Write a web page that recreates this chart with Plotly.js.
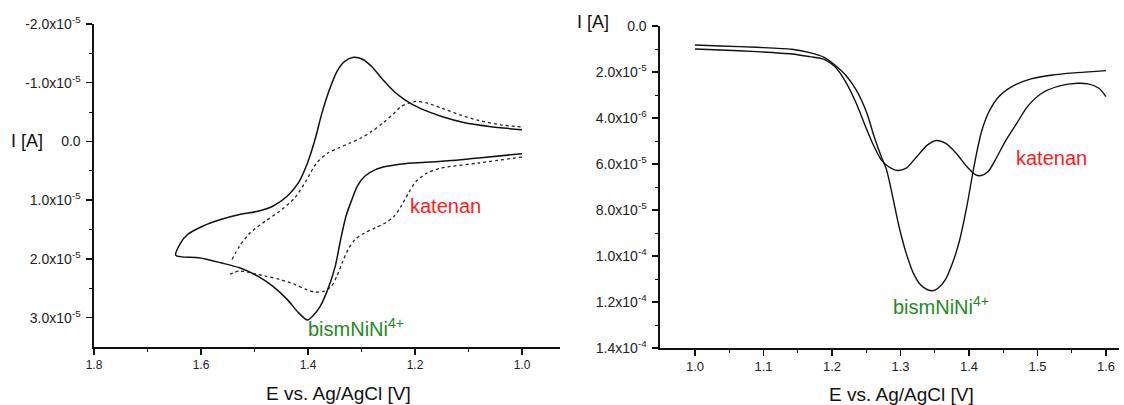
<!DOCTYPE html>
<html>
<head>
<meta charset="utf-8">
<script src="https://cdn.plot.ly/plotly-3.0.1.min.js"></script>
<style>html,body{margin:0;padding:0;background:#fff;}#chart{width:1124px;height:405px;}</style>
</head>
<body>
<div id="chart"></div>
<script>
// ---- Left panel: cyclic voltammograms (E in V, I in units of 1e-5 A) ----
const cvBisE = [1.000,1.081,1.150,1.219,1.253,1.274,1.294,1.308,1.318,1.329,1.339,1.349,1.363,1.377,1.391,1.401,1.418,1.439,1.466,1.494,1.528,1.563,1.604,1.647,1.638,1.625,1.597,1.563,1.528,1.494,1.466,1.439,1.418,1.401,1.387,1.374,1.360,1.346,1.332,1.315,1.298,1.281,1.260,1.239,1.219,1.191,1.150,1.109,1.061,1.000];
const cvBisI = [0.208,0.282,0.339,0.378,0.424,0.480,0.593,0.763,0.990,1.273,1.669,2.122,2.519,2.802,2.972,3.040,2.915,2.689,2.462,2.292,2.151,2.066,1.981,1.941,1.726,1.584,1.443,1.330,1.245,1.188,1.103,0.933,0.707,0.367,-0.029,-0.482,-0.879,-1.190,-1.360,-1.434,-1.400,-1.275,-1.049,-0.850,-0.709,-0.567,-0.426,-0.324,-0.256,-0.199];
const cvKatE = [1.000,1.081,1.150,1.177,1.198,1.212,1.226,1.239,1.253,1.274,1.294,1.312,1.325,1.336,1.346,1.356,1.370,1.387,1.404,1.425,1.453,1.480,1.508,1.528,1.551,null,1.542,1.528,1.508,1.480,1.453,1.425,1.404,1.384,1.363,1.343,1.322,1.301,1.281,1.260,1.239,1.226,1.212,1.198,1.177,1.150,1.116,1.081,1.040,1.000];
const cvKatI = [0.265,0.367,0.452,0.537,0.678,0.877,1.103,1.273,1.375,1.471,1.556,1.669,1.839,2.066,2.292,2.462,2.547,2.564,2.519,2.434,2.349,2.292,2.236,2.207,2.281,null,2.009,1.783,1.556,1.358,1.188,0.962,0.678,0.367,0.197,0.112,0.027,-0.058,-0.171,-0.313,-0.482,-0.596,-0.652,-0.681,-0.652,-0.567,-0.454,-0.358,-0.284,-0.245];

// ---- Right panel: differential pulse curves (E in V, I in units of 1e-5 A) ----
const dpBisE = [1.000,1.0375,1.0896,1.1417,1.1677,1.1885,1.2042,1.2198,1.2354,1.2510,1.2615,1.2719,1.2797,1.2875,1.2979,1.3083,1.3188,1.3292,1.3396,1.3474,1.3552,1.3656,1.3760,1.3865,1.3969,1.4073,1.4177,1.4281,1.4438,1.4646,1.4906,1.5219,1.5583,1.6000];
const dpBisI = [0.825,0.869,0.927,1.013,1.158,1.361,1.694,2.128,2.780,3.793,4.807,5.675,6.255,7.268,8.716,9.874,10.743,11.249,11.467,11.510,11.394,11.032,10.308,9.295,7.847,6.110,4.662,3.793,3.069,2.606,2.302,2.128,2.027,1.940];
const dpKatE = [1.000,1.0375,1.0896,1.1417,1.1677,1.1885,1.2042,1.2198,1.2354,1.2510,1.2615,1.2719,1.2823,1.2953,1.3083,1.3240,1.3396,1.3526,1.3656,1.3813,1.3969,1.4099,1.4177,1.4281,1.4385,1.4542,1.4698,1.4854,1.5063,1.5323,1.5583,1.5740,1.5896,1.6000];
const dpKatI = [0.999,1.042,1.115,1.216,1.332,1.448,1.766,2.418,3.359,4.517,5.241,5.820,6.110,6.284,6.182,5.675,5.169,4.980,5.096,5.531,6.110,6.472,6.501,6.327,5.820,4.952,4.228,3.504,2.925,2.606,2.490,2.519,2.707,3.069];

// ---- Tick values and labels ----
const leftXTicks = [1.8,1.6,1.4,1.2,1.0];
const leftXLabels = ['1.8','1.6','1.4','1.2','1.0'];
const leftXMinor = [1.7,1.5,1.3,1.1];
const leftYTicks = [-2.0e-5,-1.0e-5,0,1.0e-5,2.0e-5,3.0e-5];
const leftYLabels = ['-2.0x10<sup>-5</sup>','-1.0x10<sup>-5</sup>','0.0','1.0x10<sup>-5</sup>','2.0x10<sup>-5</sup>','3.0x10<sup>-5</sup>'];
const leftYMinor = [-1.5e-5,-0.5e-5,0.5e-5,1.5e-5,2.5e-5];
const rightXTicks = [1.0,1.1,1.2,1.3,1.4,1.5,1.6];
const rightXLabels = ['1.0','1.1','1.2','1.3','1.4','1.5','1.6'];
const rightXMinor = [1.05,1.15,1.25,1.35,1.45,1.55];
const rightYTicks = [0,2.0e-5,4.0e-5,6.0e-5,8.0e-5,1.0e-4,1.2e-4,1.4e-4];
const rightYLabels = ['0.0','2.0x10<sup>-5</sup>','4.0x10<sup>-6</sup>','6.0x10<sup>-5</sup>','8.0x10<sup>-5</sup>','1.0x10<sup>-4</sup>','1.2x10<sup>-4</sup>','1.4x10<sup>-4</sup>'];
const rightYMinor = [1e-5,3e-5,5e-5,7e-5,9e-5,1.1e-4,1.3e-4];

const scale = v => v === null ? null : v * 1e-5;
const W = 1124, H = 405;
const px = x => x / W, py = y => 1 - y / H;
const FONT = 'Liberation Sans, Arial, sans-serif';

const traces = [
  {x: cvBisE, y: cvBisI.map(scale), xaxis:'x', yaxis:'y', mode:'lines',
   line:{color:'#111', width:1.5, shape:'spline', smoothing:0.8}, hoverinfo:'skip'},
  {x: cvKatE, y: cvKatI.map(scale), xaxis:'x', yaxis:'y', mode:'lines', connectgaps:false,
   line:{color:'#222', width:1.3, dash:'dot', shape:'spline', smoothing:0.8}, hoverinfo:'skip'},
  {x: dpBisE, y: dpBisI.map(scale), xaxis:'x2', yaxis:'y2', mode:'lines',
   line:{color:'#111', width:1.4, shape:'spline', smoothing:0.8}, hoverinfo:'skip'},
  {x: dpKatE, y: dpKatI.map(scale), xaxis:'x2', yaxis:'y2', mode:'lines',
   line:{color:'#111', width:1.4, shape:'spline', smoothing:0.8}, hoverinfo:'skip'}
];

function axisBase(extra){
  return Object.assign({
    showline:true, linecolor:'#111', linewidth:1.6, mirror:false,
    showgrid:false, zeroline:false, ticks:'outside', ticklen:6, tickwidth:1.4, tickcolor:'#111',
    tickmode:'array', fixedrange:true
  }, extra);
}

const layout = {
  width: W, height: H,
  margin:{l:0,r:0,t:0,b:0},
  paper_bgcolor:'#fff', plot_bgcolor:'#fff',
  showlegend:false,
  font:{family:FONT, color:'#222'},
  xaxis: axisBase({domain:[px(94), px(560)], range:[1.8, 0.929], anchor:'y',
    tickvals:leftXTicks, ticktext:leftXLabels, tickfont:{size:12, family:FONT, color:'#222'},
    minor:{tickmode:'array', tickvals:leftXMinor, ticks:'outside', ticklen:3, tickwidth:1, tickcolor:'#111'}}),
  yaxis: axisBase({domain:[py(347), py(24)], range:[3.5e-5, -2.0e-5], anchor:'x',
    tickvals:leftYTicks, ticktext:leftYLabels, tickfont:{size:14, family:FONT, color:'#222'}, ticklabelstandoff:3,
    minor:{tickmode:'array', tickvals:leftYMinor, ticks:'outside', ticklen:3, tickwidth:1, tickcolor:'#111'}}),
  xaxis2: axisBase({domain:[px(660), px(1119)], range:[0.949, 1.619], anchor:'y2',
    tickvals:rightXTicks, ticktext:rightXLabels, tickfont:{size:13, family:FONT, color:'#222'},
    minor:{tickmode:'array', tickvals:rightXMinor, ticks:'outside', ticklen:3, tickwidth:1, tickcolor:'#111'}}),
  yaxis2: axisBase({domain:[py(348), py(26)], range:[1.4e-4, 0], anchor:'x2',
    tickvals:rightYTicks, ticktext:rightYLabels, tickfont:{size:14, family:FONT, color:'#222'}, ticklabelstandoff:3,
    minor:{tickmode:'array', tickvals:rightYMinor, ticks:'outside', ticklen:3, tickwidth:1, tickcolor:'#111'}}),
  annotations: [
    {text:'I [A]', xref:'paper', yref:'paper', x:px(27), y:py(141), xanchor:'center', yanchor:'middle', showarrow:false, font:{size:18, family:FONT, color:'#111'}},
    {text:'E vs. Ag/AgCl [V]', xref:'paper', yref:'paper', x:px(338), y:py(393), xanchor:'center', yanchor:'middle', showarrow:false, font:{size:19, family:FONT, color:'#111'}},
    {text:'I [A]', xref:'paper', yref:'paper', x:px(593), y:py(22), xanchor:'center', yanchor:'middle', showarrow:false, font:{size:18, family:FONT, color:'#111'}},
    {text:'E vs. Ag/AgCl [V]', xref:'paper', yref:'paper', x:px(901), y:py(394), xanchor:'center', yanchor:'middle', showarrow:false, font:{size:19, family:FONT, color:'#111'}},
    {text:'katenan', xref:'paper', yref:'paper', x:px(408), y:py(206), xanchor:'left', yanchor:'middle', showarrow:false, font:{size:20, family:FONT, color:'#ff1a1a'}},
    {text:'bismNiNi<sup>4+</sup>', xref:'paper', yref:'paper', x:px(306), y:py(327), xanchor:'left', yanchor:'middle', showarrow:false, font:{size:20, family:FONT, color:'#228b22'}},
    {text:'katenan', xref:'paper', yref:'paper', x:px(1014), y:py(158), xanchor:'left', yanchor:'middle', showarrow:false, font:{size:20, family:FONT, color:'#ff1a1a'}},
    {text:'bismNiNi<sup>4+</sup>', xref:'paper', yref:'paper', x:px(891), y:py(305), xanchor:'left', yanchor:'middle', showarrow:false, font:{size:20, family:FONT, color:'#228b22'}}
  ]
};

Plotly.newPlot('chart', traces, layout, {staticPlot:true, displayModeBar:false});
</script>
</body>
</html>
